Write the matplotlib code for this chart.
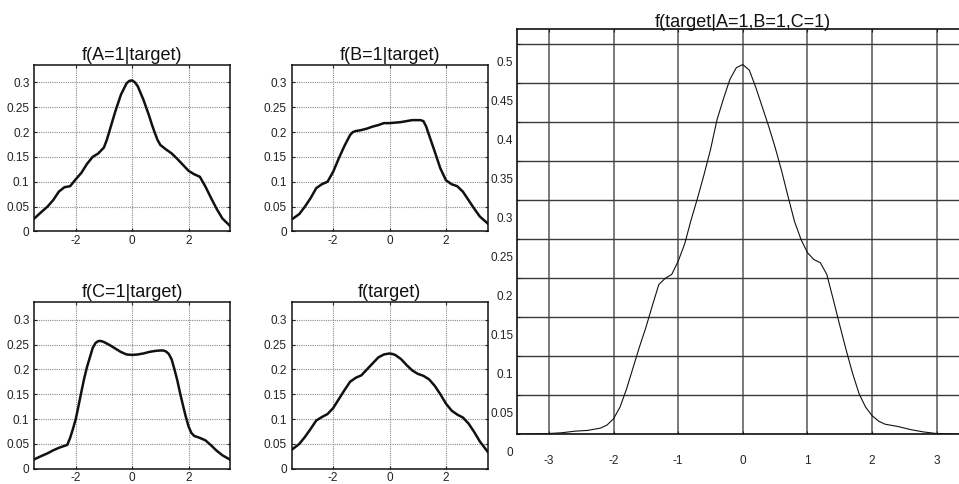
import matplotlib
matplotlib.use("Agg")
import matplotlib.pyplot as plt
import matplotlib.transforms as mtransforms

plt.rcParams['font.family'] = ['Liberation Sans', 'DejaVu Sans']
plt.rcParams['axes.unicode_minus'] = False

# ---------------- data ----------------
x_a = [-3.47, -3.2, -3.0, -2.8, -2.6, -2.4, -2.2, -2.0, -1.8, -1.6, -1.4, -1.2, -1.0,
       -0.9, -0.8, -0.7, -0.6, -0.4, -0.2, -0.1, 0.0, 0.1, 0.2, 0.4, 0.6, 0.7, 0.8,
       0.9, 1.0, 1.2, 1.4, 1.6, 1.8, 2.0, 2.2, 2.4, 2.6, 2.8, 3.0, 3.2, 3.47]
y_a = [0.026, 0.040, 0.050, 0.063, 0.080, 0.089, 0.091, 0.105, 0.118, 0.136, 0.150,
       0.157, 0.169, 0.184, 0.203, 0.222, 0.241, 0.275, 0.298, 0.303, 0.304, 0.300,
       0.292, 0.265, 0.233, 0.215, 0.199, 0.184, 0.174, 0.165, 0.157, 0.146, 0.134,
       0.122, 0.115, 0.110, 0.090, 0.067, 0.045, 0.026, 0.011]

x_b = [-3.47, -3.2, -3.0, -2.8, -2.6, -2.4, -2.2, -2.0, -1.8, -1.6, -1.4, -1.3, -1.2,
       -1.0, -0.8, -0.6, -0.4, -0.2, 0.0, 0.2, 0.4, 0.6, 0.8, 1.0, 1.1, 1.2, 1.3, 1.4,
       1.6, 1.8, 2.0, 2.2, 2.4, 2.6, 2.8, 3.0, 3.2, 3.48]
y_b = [0.024, 0.035, 0.050, 0.067, 0.087, 0.095, 0.100, 0.120, 0.147, 0.172, 0.194,
       0.200, 0.202, 0.204, 0.207, 0.211, 0.214, 0.218, 0.218, 0.219, 0.220, 0.222,
       0.224, 0.224, 0.224, 0.222, 0.211, 0.194, 0.161, 0.127, 0.103, 0.095, 0.091,
       0.080, 0.063, 0.046, 0.030, 0.016]

x_c = [-3.47, -3.2, -3.0, -2.8, -2.6, -2.4, -2.3, -2.2, -2.1, -2.0, -1.9, -1.8, -1.7,
       -1.6, -1.4, -1.3, -1.2, -1.1, -1.0, -0.8, -0.6, -0.4, -0.2, 0.0, 0.2, 0.4, 0.6,
       0.8, 1.0, 1.1, 1.2, 1.3, 1.4, 1.5, 1.6, 1.7, 1.8, 1.9, 2.0, 2.1, 2.2, 2.4, 2.6,
       2.8, 3.0, 3.2, 3.48]
y_c = [0.019, 0.026, 0.031, 0.037, 0.042, 0.046, 0.048, 0.062, 0.080, 0.100, 0.127,
       0.155, 0.182, 0.205, 0.243, 0.253, 0.257, 0.257, 0.255, 0.249, 0.242, 0.235,
       0.230, 0.229, 0.230, 0.232, 0.235, 0.237, 0.238, 0.238, 0.236, 0.231, 0.220,
       0.200, 0.178, 0.152, 0.128, 0.105, 0.085, 0.072, 0.066, 0.062, 0.057, 0.047,
       0.036, 0.027, 0.018]

x_t = [-3.47, -3.2, -3.0, -2.8, -2.6, -2.4, -2.2, -2.0, -1.8, -1.6, -1.4, -1.2, -1.0,
       -0.8, -0.6, -0.4, -0.2, -0.1, 0.0, 0.1, 0.2, 0.4, 0.6, 0.8, 1.0, 1.2, 1.4, 1.6,
       1.8, 2.0, 2.2, 2.4, 2.6, 2.8, 3.0, 3.2, 3.48]
y_t = [0.038, 0.050, 0.064, 0.080, 0.097, 0.104, 0.110, 0.122, 0.140, 0.158, 0.175,
       0.183, 0.188, 0.200, 0.212, 0.224, 0.230, 0.231, 0.232, 0.231, 0.229, 0.221,
       0.209, 0.198, 0.191, 0.187, 0.180, 0.167, 0.150, 0.131, 0.117, 0.109, 0.103,
       0.091, 0.074, 0.055, 0.034]

x_post = [-3.5, -3.0, -2.8, -2.6, -2.4, -2.2, -2.1, -2.0, -1.9, -1.8, -1.7, -1.6, -1.5,
          -1.4, -1.3, -1.2, -1.1, -1.0, -0.9, -0.8, -0.7, -0.6, -0.5, -0.4, -0.3, -0.2,
          -0.1, 0.0, 0.1, 0.2, 0.3, 0.4, 0.5, 0.6, 0.7, 0.8, 0.9, 1.0, 1.1, 1.2, 1.3,
          1.4, 1.5, 1.6, 1.7, 1.8, 1.9, 2.0, 2.1, 2.2, 2.4, 2.6, 2.8, 3.0, 3.4]
y_post = [0.0, 0.001, 0.002, 0.004, 0.005, 0.008, 0.012, 0.020, 0.035, 0.058, 0.085,
          0.112, 0.137, 0.165, 0.192, 0.200, 0.205, 0.222, 0.244, 0.275, 0.303, 0.333,
          0.365, 0.403, 0.430, 0.455, 0.470, 0.474, 0.467, 0.445, 0.420, 0.395, 0.368,
          0.338, 0.305, 0.273, 0.250, 0.233, 0.224, 0.220, 0.205, 0.173, 0.140, 0.108,
          0.078, 0.052, 0.035, 0.024, 0.017, 0.013, 0.010, 0.006, 0.003, 0.001, 0.0]

small_titles = ['f(A=1|target)', 'f(B=1|target)', 'f(C=1|target)', 'f(target)']
big_title = 'f(target|A=1,B=1,C=1)'
small_yticks = [0, 0.05, 0.1, 0.15, 0.2, 0.25, 0.3]
small_yticklabels = ['0', '0.05', '0.1', '0.15', '0.2', '0.25', '0.3']
small_xticks = [-2, 0, 2]
small_xticklabels = ['-2', '0', '2']
big_yticks = [0, 0.05, 0.1, 0.15, 0.2, 0.25, 0.3, 0.35, 0.4, 0.45, 0.5]
big_yticklabels = ['0', '0.05', '0.1', '0.15', '0.2', '0.25', '0.3', '0.35', '0.4', '0.45', '0.5']
big_xticks = [-3, -2, -1, 0, 1, 2, 3]
big_xticklabels = ['-3', '-2', '-1', '0', '1', '2', '3']

# ---------------- figure ----------------
W, H = 959, 484
fig = plt.figure(figsize=(W / 100, H / 100), dpi=100)

def fx(px):
    return px / W

def fy(py):
    return 1 - py / H

sw, sh = 196.0, 166.4
small_pos = [(34.3, 65.0), (291.7, 65.0), (34.3, 302.3), (291.7, 302.3)]
curves = [(x_a, y_a), (x_b, y_b), (x_c, y_c), (x_t, y_t)]

for (lx, ty), (xs, ys), title in zip(small_pos, curves, small_titles):
    ax = fig.add_axes([fx(lx), fy(ty + sh), sw / W, sh / H])
    ax.plot(xs, ys, color='#111111', lw=1.8, solid_joinstyle='round')
    ax.set_xlim(-3.47, 3.48)
    ax.set_ylim(0, 0.335)
    ax.set_yticks(small_yticks)
    ax.set_yticklabels(small_yticklabels)
    ax.set_xticks(small_xticks)
    ax.set_xticklabels(small_xticklabels)
    ax.grid(True, color='#8a8a8a', lw=0.8, linestyle=(0, (1, 1)))
    ax.tick_params(direction='in', length=2.5, width=0.8, top=True, right=True,
                   labelsize=8.5, colors='#222222')
    ax.tick_params(axis='y', pad=3.5)
    ax.tick_params(axis='x', pad=2.5)
    for sp in ax.spines.values():
        sp.set_linewidth(1.1)
        sp.set_color('#111111')
    ax.set_title(title, fontsize=13, pad=3.5, color='#111111')

# big posterior axes
bl, bt, bb = 516.7, 29.0, 434.3
unit = 64.6
bw = 7.0 * unit
axb = fig.add_axes([fx(bl), fy(bb), bw / W, (bb - bt) / H])
axb.plot(x_post, y_post, color='#111111', lw=0.8, solid_joinstyle='round')
axb.set_xlim(-3.5, 3.5)
axb.set_ylim(0, 0.5196)
axb.set_yticks(big_yticks)
axb.set_yticklabels(big_yticklabels)
axb.set_xticks(big_xticks)
axb.set_xticklabels(big_xticklabels)
axb.xaxis.grid(True, color='#707070', lw=1.3)
axb.yaxis.grid(True, color='#3a3a3a', lw=1.0)
axb.set_axisbelow(True)
axb.tick_params(direction='in', length=2.5, width=0.8, top=True, right=True,
                labelsize=8.5, colors='#222222')
axb.tick_params(axis='y', pad=2.5)
axb.tick_params(axis='x', pad=15)
for sp in axb.spines.values():
    sp.set_linewidth(1.2)
    sp.set_color('#111111')
axb.set_title(big_title, fontsize=13, pad=1.5, color='#111111')

off = mtransforms.ScaledTranslation(0, -17.4 / 100, fig.dpi_scale_trans)
for lab in axb.get_yticklabels():
    lab.set_transform(lab.get_transform() + off)

fig.savefig('out.png', dpi=100, facecolor='white')
